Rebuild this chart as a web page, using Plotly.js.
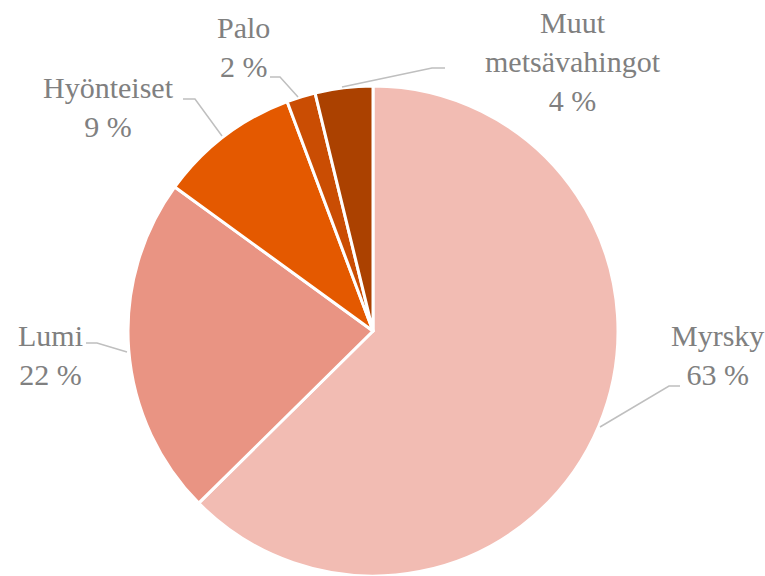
<!DOCTYPE html>
<html>
<head>
<meta charset="utf-8">
<script src="https://cdn.plot.ly/plotly-3.0.1.min.js"></script>
<style>
html,body{margin:0;padding:0;background:#fff;}
#chart{width:765px;height:576px;}
#chart svg text{font-family:"Liberation Serif","Times New Roman",serif !important;}
</style>
</head>
<body>
<div id="chart"></div>
<script>
const categories = ["Myrsky", "Lumi", "Hyönteiset", "Palo", "Muut metsävahingot"];
const labelLines = ["Myrsky", "Lumi", "Hyönteiset", "Palo", "Muut<br>metsävahingot"];
const shares = [62.6, 22.4, 9.3, 1.9, 3.8];
const colors = ["#F2BCB3", "#E99483", "#E45900", "#CA4D03", "#AB4100"];

const W = 765, H = 576;
const px = x => x / W;
const py = y => 1 - y / H;

const total = shares.reduce((a, b) => a + b, 0);
const pctText = shares.map(v => Math.round(v / total * 100) + " %");

// label placements (pixel positions: center x, top y)
const labelPos = [[717, 317], [50, 317], [108, 69], [243, 9], [573, 4]];
// leader lines (pixel polylines)
const leaders = [
  [[600, 427], [669, 386], [680, 386]],
  [[86, 343], [97, 343], [127, 352]],
  [[183, 99], [195, 99], [222, 136]],
  [[270, 77], [280, 77], [298, 97]],
  [[342, 87], [432, 68], [445, 68]]
];

const annotations = categories.map((c, i) => ({
  xref: "paper", yref: "paper",
  x: px(labelPos[i][0]), y: py(labelPos[i][1]),
  xanchor: "center", yanchor: "top",
  text: labelLines[i] + "<br>" + pctText[i],
  showarrow: false, align: "center",
  font: {family: "Liberation Serif", size: 30, color: "#808080"}
}));

const shapes = leaders.map(pts => ({
  type: "path", xref: "paper", yref: "paper",
  path: pts.map((p, k) => (k ? "L" : "M") + px(p[0]) + "," + py(p[1])).join(" "),
  line: {color: "#BFBFBF", width: 1.5}
}));

const cx = 373, cy = 331, r = 245;
const trace = {
  type: "pie",
  labels: categories,
  values: shares,
  sort: false,
  direction: "clockwise",
  rotation: 0,
  textinfo: "none",
  hoverinfo: "label+percent",
  marker: {colors: colors, line: {color: "#FFFFFF", width: 3}},
  domain: {x: [px(cx - r), px(cx + r)], y: [py(cy + r), py(cy - r)]}
};

Plotly.newPlot("chart", [trace], {
  width: W, height: H,
  margin: {l: 0, r: 0, t: 0, b: 0},
  showlegend: false,
  paper_bgcolor: "#FFFFFF",
  font: {family: "Liberation Serif", color: "#808080"},
  annotations: annotations,
  shapes: shapes
}, {displayModeBar: false});
</script>
</body>
</html>
